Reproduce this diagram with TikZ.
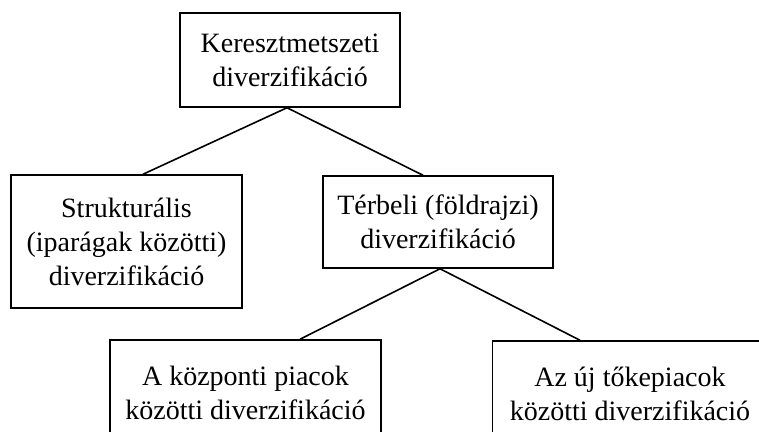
\documentclass[tikz,border=0pt]{standalone}
\usepackage{fontspec}
\setmainfont{Liberation Serif}
\begin{document}
\begin{tikzpicture}[x=1pt,y=-1pt,
  box/.style={draw=black,line width=1.5pt,rectangle,align=center,inner sep=0pt,
    font=\fontsize{28}{34}\selectfont},
  link/.style={draw=black,line width=1.6pt}]
\useasboundingbox (0,0) rectangle (759,431);
\clip (0,0) rectangle (759,431);
\node[box,minimum width=220pt,minimum height=94pt] (top) at (290,60)
  {Keresztmetszeti\\diverzifikáció};
\node[box,minimum width=231pt,minimum height=133pt] (left) at (126.5,241.5)
  {Strukturális\\(iparágak közötti)\\diverzifikáció};
\node[box,minimum width=230pt,minimum height=92pt] (terb) at (438,222)
  {Térbeli (földrajzi)\\diverzifikáció};
\node[box,minimum width=271pt,minimum height=106pt] (bl) at (245.5,393)
  {A központi piacok\\közötti diverzifikáció};
\node[box,minimum width=275pt,minimum height=106pt] (br) at (630,394)
  {Az új tőkepiacok\\közötti diverzifikáció};
\draw[link] ([xshift=-3pt]top.south) -- ([xshift=16.5pt]left.north);
\draw[link] ([xshift=-3pt]top.south) -- ([xshift=-15pt]terb.north);
\draw[link] ([xshift=2pt]terb.south) -- ([xshift=54.5pt]bl.north);
\draw[link] ([xshift=2pt]terb.south) -- ([xshift=-50pt]br.north);
\end{tikzpicture}
\end{document}
